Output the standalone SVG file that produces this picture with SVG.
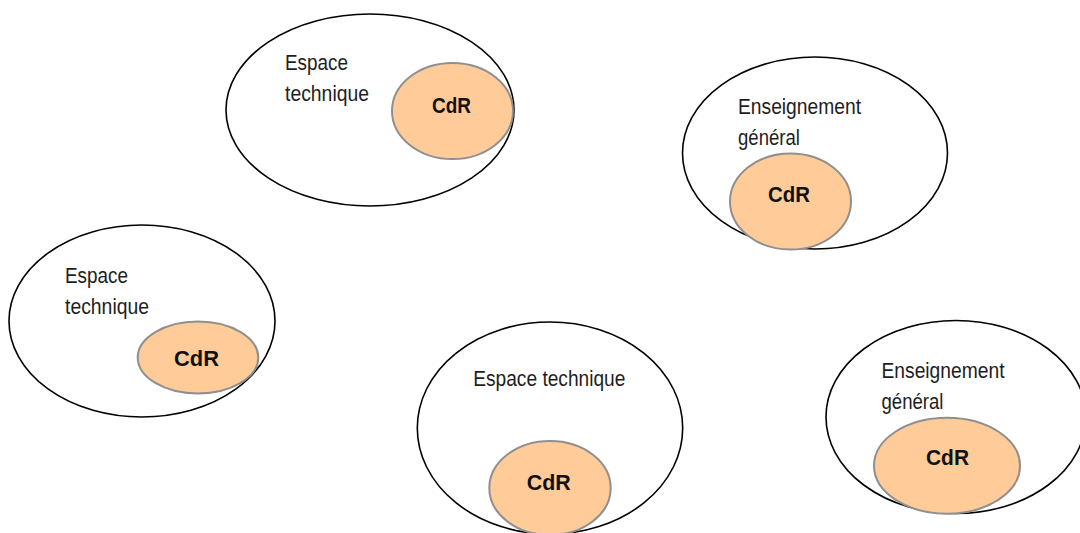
<svg xmlns="http://www.w3.org/2000/svg" width="1080" height="533" viewBox="0 0 1080 533">
<style>
.outer{fill:#fff;stroke:#000;stroke-width:1.6}
.cdr{fill:#FFCC99;stroke:#8f8f8f;stroke-width:2}
.lbl{font-family:"Liberation Sans",Arial,sans-serif;font-size:22px;fill:#1e1e1e}
.cdrt{font-family:"Liberation Sans",Arial,sans-serif;font-size:22px;font-weight:bold;fill:#111;text-anchor:middle}
</style>
<rect width="1080" height="533" fill="#fff"/>
<g id="node1">
<ellipse class="outer" cx="370" cy="110" rx="144" ry="96"/>
<ellipse class="cdr" cx="452.5" cy="111" rx="60.5" ry="48"/>
<text class="lbl" x="285" y="70" textLength="63" lengthAdjust="spacingAndGlyphs">Espace</text>
<text class="lbl" x="285" y="101" textLength="84" lengthAdjust="spacingAndGlyphs">technique</text>
<text class="cdrt" x="451.5" y="112.5" textLength="39" lengthAdjust="spacingAndGlyphs">CdR</text>
</g>
<g id="node2">
<ellipse class="outer" cx="815" cy="153" rx="132.5" ry="96"/>
<ellipse class="cdr" cx="790.5" cy="201.5" rx="60.5" ry="48"/>
<text class="lbl" x="738" y="114" textLength="123" lengthAdjust="spacingAndGlyphs">Enseignement</text>
<text class="lbl" x="738" y="144.5" textLength="62" lengthAdjust="spacingAndGlyphs">général</text>
<text class="cdrt" x="789" y="201.5" textLength="42" lengthAdjust="spacingAndGlyphs">CdR</text>
</g>
<g id="node3">
<ellipse class="outer" cx="142" cy="321" rx="133" ry="96"/>
<ellipse class="cdr" cx="198" cy="357.5" rx="60.3" ry="36"/>
<text class="lbl" x="65" y="282.5" textLength="63" lengthAdjust="spacingAndGlyphs">Espace</text>
<text class="lbl" x="65" y="313.5" textLength="84" lengthAdjust="spacingAndGlyphs">technique</text>
<text class="cdrt" x="196.5" y="366" textLength="45" lengthAdjust="spacingAndGlyphs">CdR</text>
</g>
<g id="node4">
<ellipse class="outer" cx="550" cy="428" rx="132.7" ry="106"/>
<ellipse class="cdr" cx="550" cy="488" rx="60.7" ry="47"/>
<text class="lbl" x="473.3" y="386" textLength="152" lengthAdjust="spacingAndGlyphs">Espace technique</text>
<text class="cdrt" x="548.7" y="490" textLength="44" lengthAdjust="spacingAndGlyphs">CdR</text>
</g>
<g id="node5">
<ellipse class="outer" cx="956" cy="417" rx="130" ry="96.5"/>
<ellipse class="cdr" cx="947" cy="465.7" rx="73" ry="48"/>
<text class="lbl" x="881.5" y="378" textLength="123" lengthAdjust="spacingAndGlyphs">Enseignement</text>
<text class="lbl" x="881.5" y="409" textLength="62" lengthAdjust="spacingAndGlyphs">général</text>
<text class="cdrt" x="947.5" y="465" textLength="43" lengthAdjust="spacingAndGlyphs">CdR</text>
</g>
<g id="connectors"></g>
</svg>
